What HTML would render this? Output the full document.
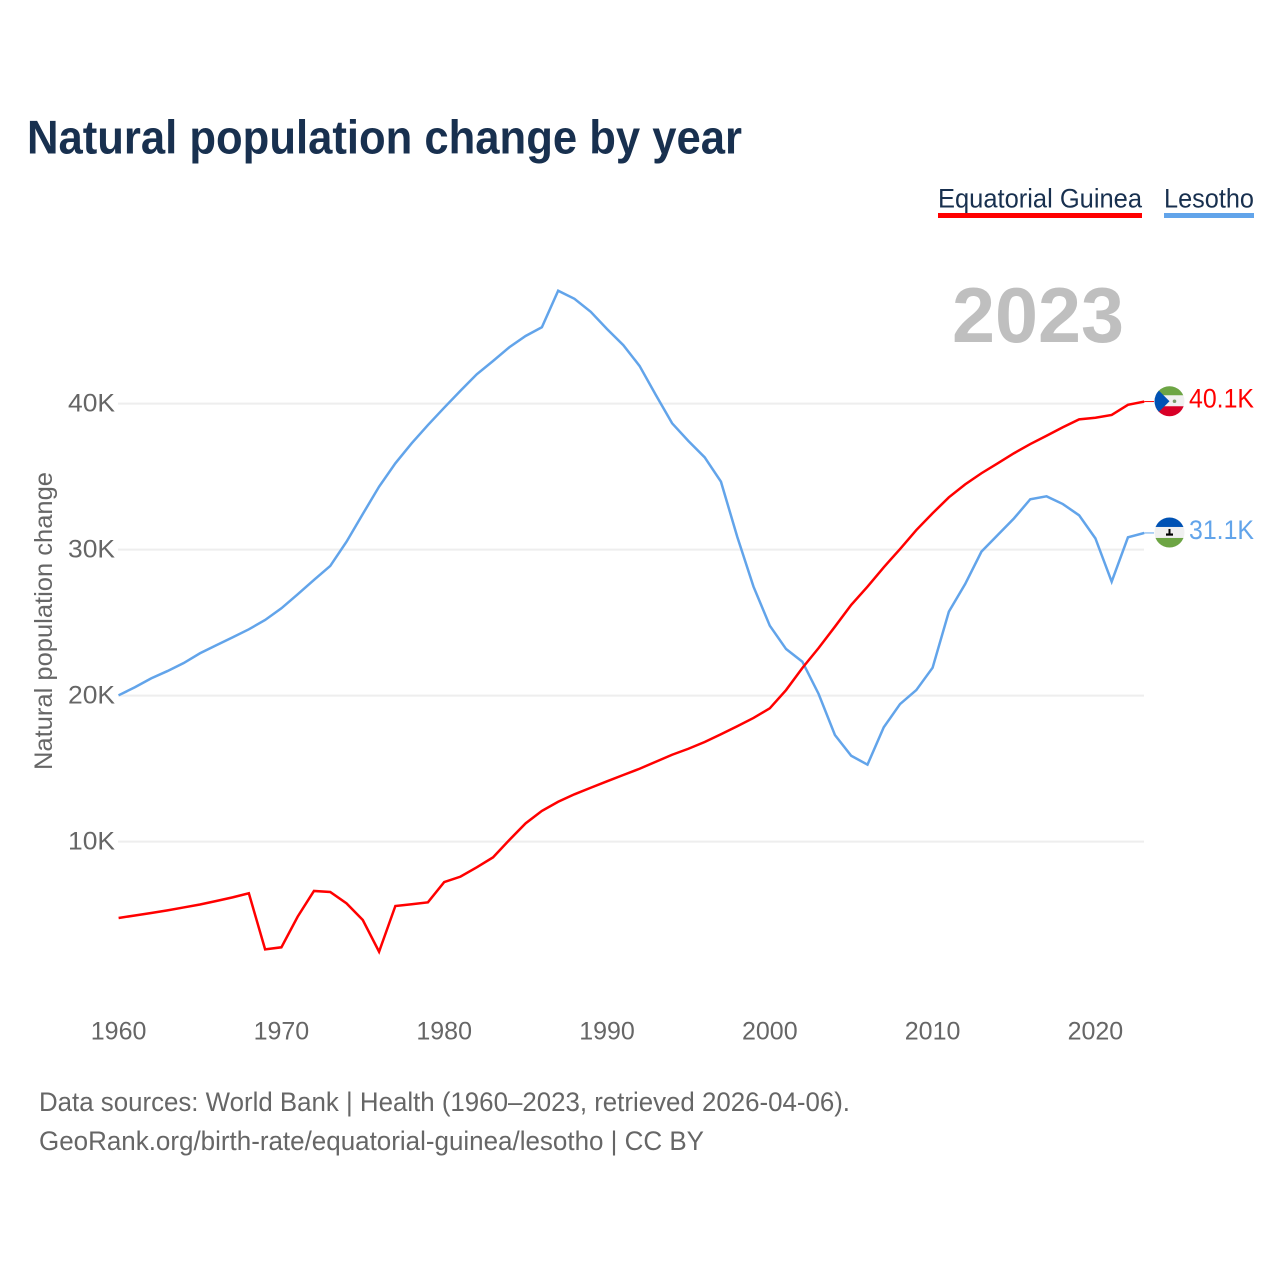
<!DOCTYPE html>
<html lang="en">
<head>
<meta charset="utf-8">
<title>Natural population change by year</title>
<style>
  html, body { margin: 0; padding: 0; background: #fff; }
  svg { display: block; font-family: "Liberation Sans", sans-serif; }
</style>
</head>
<body>
<svg id="chart" xmlns="http://www.w3.org/2000/svg" width="1280" height="1280" viewBox="0 0 1280 1280">
  <defs>
    <clipPath id="flag-clip-a"><circle cx="0" cy="0" r="15"></circle></clipPath>
  </defs>
  <rect x="0" y="0" width="1280" height="1280" fill="#fff"></rect>
  <text x="27" y="153.5" font-size="47" font-weight="700" fill="#18304f" textLength="715" lengthAdjust="spacingAndGlyphs">Natural population change by year</text>

  <g>
    <text x="938" y="207.5" font-size="27" fill="#18304f" textLength="204" lengthAdjust="spacingAndGlyphs">Equatorial Guinea</text>
    <rect x="938" y="213" width="204" height="5" fill="#ff0000"></rect>
  </g>
  <g>
    <text x="1164" y="207.5" font-size="27" fill="#18304f" textLength="90" lengthAdjust="spacingAndGlyphs">Lesotho</text>
    <rect x="1164" y="213" width="90" height="5" fill="#62a4ea"></rect>
  </g>

  <text x="952" y="342" font-size="78" font-weight="700" fill="#bfbfbf" textLength="172" lengthAdjust="spacingAndGlyphs">2023</text>
  <text transform="translate(52 770) rotate(-90)" x="0" y="0" font-size="25" fill="#666" textLength="298" lengthAdjust="spacingAndGlyphs">Natural population change</text>

  <g id="grid"></g>
  <g id="y-ticks"></g>
  <g id="x-ticks"></g>
  <g id="series"></g>

  <g id="flag-gq">
    <g clip-path="url(#flag-clip-a)">
      <rect x="-16" y="-16" width="32" height="32" fill="#f0f0f0"></rect>
      <rect x="-16" y="-16" width="32" height="10" fill="#6da544"></rect>
      <rect x="-16" y="5" width="32" height="11" fill="#d80027"></rect>
      <polygon points="-16,-16 0,0 -16,16" fill="#0052b4"></polygon>
      <circle cx="5" cy="0" r="1.8" fill="#7a9a6a"></circle>
    </g>
  </g>
  <g id="flag-ls">
    <g clip-path="url(#flag-clip-a)">
      <rect x="-16" y="-16" width="32" height="32" fill="#f0f0f0"></rect>
      <rect x="-16" y="-16" width="32" height="10.5" fill="#0052b4"></rect>
      <rect x="-16" y="5.5" width="32" height="11" fill="#6da544"></rect>
      <rect x="-1" y="-3.5" width="2" height="5" fill="#000"></rect>
      <rect x="-3.5" y="1" width="7" height="2.2" fill="#000"></rect>
    </g>
  </g>

  <text id="label-gq" x="1189" font-size="27" fill="#ff0000" textLength="65" lengthAdjust="spacingAndGlyphs"></text>
  <text id="label-ls" x="1189" font-size="27" fill="#62a4ea" textLength="65" lengthAdjust="spacingAndGlyphs"></text>

  <text x="39" y="1111" font-size="27" fill="#666" textLength="811" lengthAdjust="spacingAndGlyphs">Data sources: World Bank | Health (1960–2023, retrieved 2026-04-06).</text>
  <text x="39" y="1150" font-size="27" fill="#666" textLength="665" lengthAdjust="spacingAndGlyphs">GeoRank.org/birth-rate/equatorial-guinea/lesotho | CC BY</text>
</svg>
<script>
const startYear = 1960;
const xTickYears = [1960, 1970, 1980, 1990, 2000, 2010, 2020];
const yTickValues = [10, 20, 30, 40];
const equatorialGuinea = [
  4.77, 4.94, 5.11, 5.29, 5.49, 5.69, 5.93, 6.18, 6.46, 2.62,
  2.76, 4.86, 6.62, 6.55, 5.77, 4.63, 2.46, 5.59, 5.71, 5.84,
  7.23, 7.60, 8.24, 8.92, 10.11, 11.25, 12.10, 12.73, 13.24, 13.69,
  14.13, 14.56, 14.99, 15.47, 15.95, 16.36, 16.82, 17.35, 17.90, 18.47,
  19.13, 20.38, 21.89, 23.26, 24.72, 26.21, 27.46, 28.79, 30.04, 31.34,
  32.49, 33.58, 34.47, 35.23, 35.91, 36.60, 37.23, 37.80, 38.38, 38.92,
  39.03, 39.22, 39.92, 40.14
];
const lesotho = [
  20.02, 20.57, 21.18, 21.68, 22.23, 22.90, 23.45, 23.99, 24.54, 25.18,
  25.98, 26.94, 27.92, 28.88, 30.54, 32.44, 34.31, 35.91, 37.28, 38.53,
  39.72, 40.88, 42.01, 42.92, 43.86, 44.63, 45.23, 47.73, 47.18, 46.29,
  45.11, 44.01, 42.58, 40.59, 38.65, 37.44, 36.32, 34.65, 30.88, 27.46,
  24.79, 23.19, 22.32, 20.11, 17.30, 15.88, 15.27, 17.83, 19.42, 20.38,
  21.91, 25.75, 27.64, 29.86, 31.00, 32.14, 33.45, 33.65, 33.12, 32.35,
  30.77, 27.80, 30.84, 31.14
];

const NS = 'http://www.w3.org/2000/svg';
const xScale = function (year) { return 118.6 + (year - 1960) * 16.28; };
const yScale = function (v) { return 987.6 - v * 14.6; };
const make = function (tag, parent) {
  const el = document.createElementNS(NS, tag);
  document.getElementById(parent).appendChild(el);
  return el;
};

yTickValues.forEach(function (v) {
  const line = make('line', 'grid');
  
  
  line.setAttribute('x1', 118);
  line.setAttribute('x2', 1144);
  line.setAttribute('y1', yScale(v));
  line.setAttribute('y2', yScale(v));
  line.setAttribute('stroke', '#eeeeee');
  line.setAttribute('stroke-width', 2);

  const label = make('text', 'y-ticks');
  
  
  label.setAttribute('x', 68);
  label.setAttribute('y', yScale(v) + 8);
  label.setAttribute('font-size', 25);
  label.setAttribute('fill', '#666');
  label.setAttribute('textLength', 47);
  label.setAttribute('lengthAdjust', 'spacingAndGlyphs');
  label.textContent = v + 'K';
});

xTickYears.forEach(function (year) {
  const label = make('text', 'x-ticks');
  
  
  label.setAttribute('x', xScale(year));
  label.setAttribute('y', 1039.5);
  label.setAttribute('text-anchor', 'middle');
  label.setAttribute('font-size', 25);
  label.setAttribute('fill', '#666');
  label.textContent = year;
});

const toPoints = function (values) {
  return values.map(function (v, i) {
    return xScale(startYear + i).toFixed(2) + ',' + yScale(v).toFixed(2);
  }).join(' ');
};

const lesothoLine = make('polyline', 'series');


lesothoLine.setAttribute('points', toPoints(lesotho));
lesothoLine.setAttribute('fill', 'none');
lesothoLine.setAttribute('stroke', '#62a4ea');
lesothoLine.setAttribute('stroke-width', 2.5);

const guineaLine = make('polyline', 'series');


guineaLine.setAttribute('points', toPoints(equatorialGuinea));
guineaLine.setAttribute('fill', 'none');
guineaLine.setAttribute('stroke', '#ff0000');
guineaLine.setAttribute('stroke-width', 2.5);

const lastGuinea = equatorialGuinea[equatorialGuinea.length - 1];
const lastLesotho = lesotho[lesotho.length - 1];
const lastX = xScale(startYear + equatorialGuinea.length - 1);

const guineaLeader = make('line', 'series');


guineaLeader.setAttribute('x1', lastX);
guineaLeader.setAttribute('x2', 1154);
guineaLeader.setAttribute('y1', yScale(lastGuinea));
guineaLeader.setAttribute('y2', yScale(lastGuinea));
guineaLeader.setAttribute('stroke', '#ff0000');
guineaLeader.setAttribute('stroke-width', 1);

const lesothoLeader = make('line', 'series');


lesothoLeader.setAttribute('x1', lastX);
lesothoLeader.setAttribute('x2', 1154);
lesothoLeader.setAttribute('y1', yScale(lastLesotho));
lesothoLeader.setAttribute('y2', yScale(lastLesotho));
lesothoLeader.setAttribute('stroke', '#62a4ea');
lesothoLeader.setAttribute('stroke-width', 1);

document.getElementById('flag-gq').setAttribute('transform', 'translate(1169.5 ' + (yScale(lastGuinea) - 0.3) + ')');
document.getElementById('flag-ls').setAttribute('transform', 'translate(1169.5 ' + (yScale(lastLesotho) - 0.5) + ')');
const labelGq = document.getElementById('label-gq');
labelGq.setAttribute('y', yScale(lastGuinea) + 6);
labelGq.textContent = lastGuinea.toFixed(1) + 'K';
const labelLs = document.getElementById('label-ls');
labelLs.setAttribute('y', yScale(lastLesotho) + 6);
labelLs.textContent = lastLesotho.toFixed(1) + 'K';
</script>
</body>
</html>
